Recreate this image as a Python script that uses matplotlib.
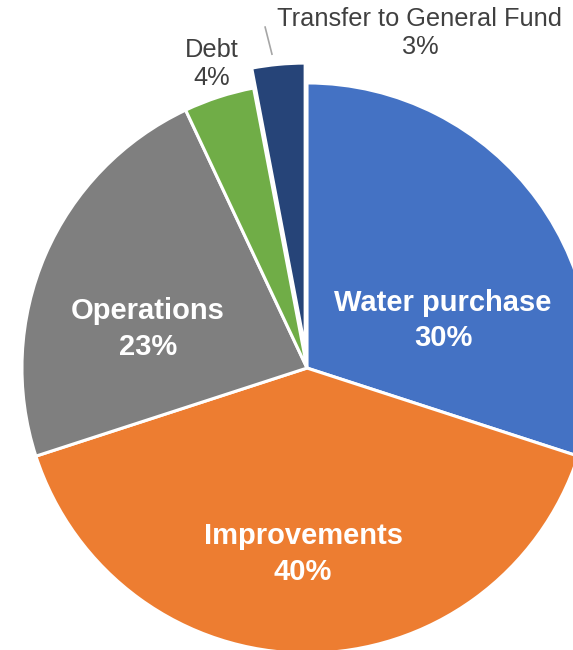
import matplotlib
matplotlib.use('Agg')
from matplotlib import rcParams
rcParams['font.family'] = 'Liberation Sans'
import matplotlib.pyplot as plt

# data, clockwise from 12 o'clock
categories = ['Water purchase', 'Improvements', 'Operations', 'Debt', 'Transfer to General Fund']
shares = [30, 40, 23, 4, 3]
colors = ['#4472C4', '#ED7D31', '#7F7F7F', '#70AD47', '#264478']
explode = [0, 0, 0, 0, 0.07]

fig = plt.figure(figsize=(5.73, 6.5), dpi=100)
ax = fig.add_axes([0, 0, 1, 1])

wedges, _ = ax.pie(shares, colors=colors, explode=explode, startangle=90,
                   counterclock=False, radius=1.0,
                   wedgeprops={'edgecolor': 'white', 'linewidth': 2.2})

ax.set_xlim(-1.077, 0.933)
ax.set_ylim(-0.989, 1.291)
ax.set_aspect('auto')
ax.axis('off')

# labels inside the big slices
inside = {
    'Water purchase': (0.477, 0.167),
    'Improvements': (-0.014, -0.652),
    'Operations': (-0.558, 0.136),
}
for name, val in zip(categories, shares):
    if name in inside:
        x, y = inside[name]
        ax.text(x, y, f'{name}\n{val}%', ha='center', va='center', color='white',
                fontsize=21, fontweight='bold', linespacing=1.35)

# outside labels for the small slices
ax.text(-0.333, 1.067, f'{categories[3]}\n{shares[3]}%', ha='center', va='center',
        color='#404040', fontsize=18.3, linespacing=1.2)
ax.text(0.396, 1.175, f'{categories[4]}\n{shares[4]}%', ha='center', va='center',
        color='#404040', fontsize=18.3, linespacing=1.2)
ax.plot([-0.147, -0.123], [1.196, 1.101], color='#A6A6A6', linewidth=1.2)

plt.savefig('out.png', dpi=100)
plt.close()
